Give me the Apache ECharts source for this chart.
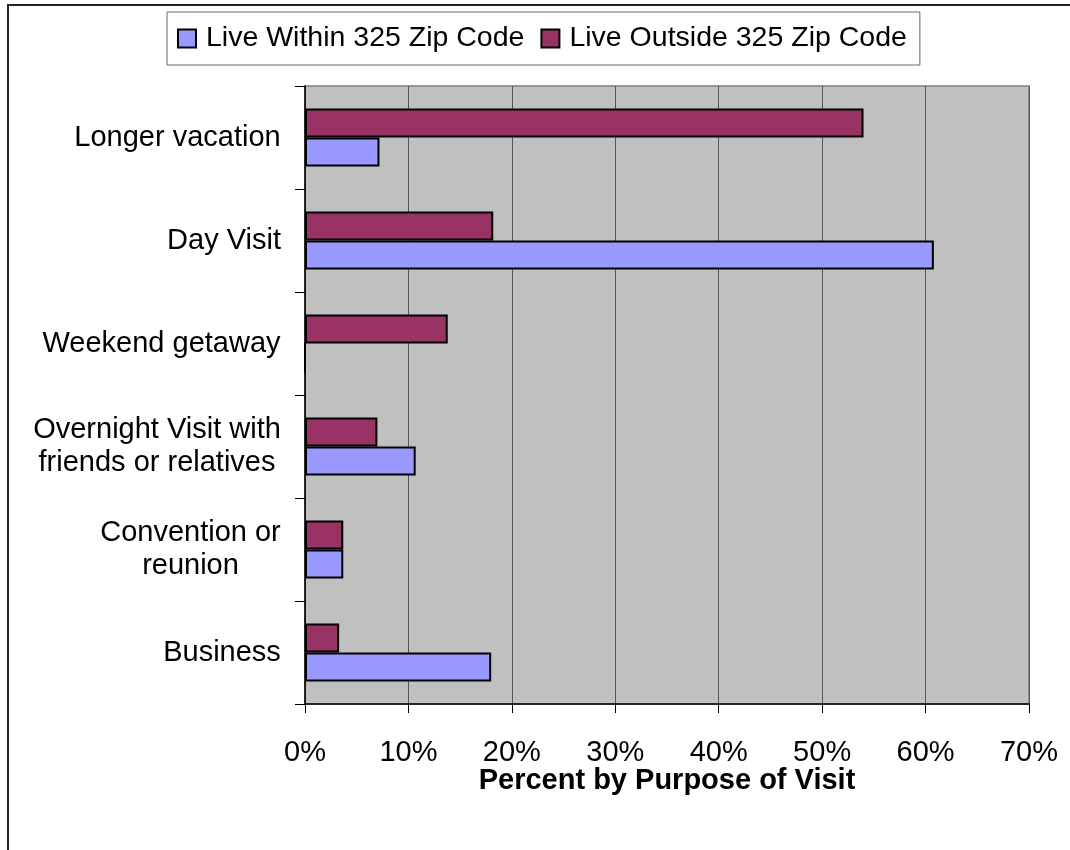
<!DOCTYPE html>
<html>
<head>
<meta charset="utf-8">
<title>Percent by Purpose of Visit</title>
<script src="https://cdn.jsdelivr.net/npm/echarts@6/dist/echarts.min.js"></script>
<style>
  html, body { margin: 0; padding: 0; background: #ffffff; }
  #chart { width: 1070px; height: 850px; }
</style>
</head>
<body>
<div id="chart"></div>
<script>
// Purposes of visit, listed bottom to top as they appear on the axis
const categories = [
  'Business',
  'Convention or\nreunion',
  'Overnight Visit with\nfriends or relatives',
  'Weekend getaway',
  'Day Visit',
  'Longer vacation'
];
// Percent of respondents for each purpose
const withinZip = [18.0, 3.7, 10.7, 0, 60.8, 7.2];
const outsideZip = [3.3, 3.7, 7.0, 13.8, 18.2, 54.0];
const seriesNames = ['Live Within 325 Zip Code', 'Live Outside 325 Zip Code'];
const axisTitle = 'Percent by Purpose of Visit';

const FONT = '"Liberation Sans", Arial, sans-serif';
const LABEL_SIZE = 29;

// Multi-line category labels have their lines centred on each other,
// so each label gets a rich style as wide as its longest line.
const measureCtx = document.createElement('canvas').getContext('2d');
measureCtx.font = LABEL_SIZE + 'px ' + FONT;
const richStyles = {};
categories.forEach(function (c, i) {
  const w = Math.max.apply(null, c.split('\n').map(function (s) {
    return Math.ceil(measureCtx.measureText(s).width);
  }));
  richStyles['c' + i] = {
    width: w, align: 'center', fontSize: LABEL_SIZE, fontFamily: FONT,
    color: '#000', lineHeight: 33
  };
});

const chart = echarts.init(document.getElementById('chart'));
chart.setOption({
  backgroundColor: '#ffffff',
  animation: false,
  graphic: [{
    type: 'rect',
    shape: { x: 8, y: 5, width: 1100, height: 900 },
    style: { fill: null, stroke: '#222', lineWidth: 2 },
    silent: true
  }],
  legend: {
    data: seriesNames,
    left: 167,
    top: 12,
    orient: 'horizontal',
    padding: [12, 13, 12, 10],
    backgroundColor: '#ffffff',
    borderColor: '#666666',
    borderWidth: 1,
    icon: 'rect',
    itemWidth: 18,
    itemHeight: 18,
    itemGap: 16,
    textStyle: { fontSize: 28.5, fontFamily: FONT, color: '#000', padding: [0, 0, 0, 5] }
  },
  grid: {
    left: 305,
    right: 41,
    top: 86,
    bottom: 146,
    show: true,
    backgroundColor: '#C0C0C0',
    borderColor: '#808080',
    borderWidth: 1.5
  },
  xAxis: {
    type: 'value',
    min: 0,
    max: 70,
    interval: 10,
    name: axisTitle,
    nameLocation: 'middle',
    nameGap: 62,
    nameMoveOverlap: false,
    nameTextStyle: { fontSize: 29, fontWeight: 'bold', fontFamily: FONT, color: '#000' },
    axisLine: { show: true, lineStyle: { color: '#000', width: 1.5 } },
    axisTick: { show: true, length: 9, lineStyle: { color: '#000', width: 1 } },
    axisLabel: {
      formatter: '{value}%', margin: 34,
      fontSize: LABEL_SIZE, fontFamily: FONT, color: '#000'
    },
    splitLine: { show: true, lineStyle: { color: '#555555', width: 1 } }
  },
  yAxis: {
    type: 'category',
    data: categories,
    axisLine: { show: true, lineStyle: { color: '#000', width: 1.5 } },
    axisTick: { show: true, length: 10, alignWithLabel: false, lineStyle: { color: '#000', width: 1 } },
    axisLabel: {
      margin: 24,
      fontSize: LABEL_SIZE,
      fontFamily: FONT,
      color: '#000',
      lineHeight: 33,
      formatter: function (value, index) {
        return value.split('\n').map(function (s) {
          return '{c' + index + '|' + s + '}';
        }).join('\n');
      },
      rich: richStyles
    },
    splitLine: { show: false }
  },
  series: [
    {
      name: seriesNames[1],
      type: 'bar',
      data: outsideZip,
      barWidth: 29,
      barGap: '0%',
      itemStyle: { color: '#993366', borderColor: '#000', borderWidth: 2 }
    },
    {
      name: seriesNames[0],
      type: 'bar',
      data: withinZip,
      barWidth: 29,
      barGap: '0%',
      itemStyle: { color: '#9999FF', borderColor: '#000', borderWidth: 2 }
    }
  ]
});
</script>
</body>
</html>
